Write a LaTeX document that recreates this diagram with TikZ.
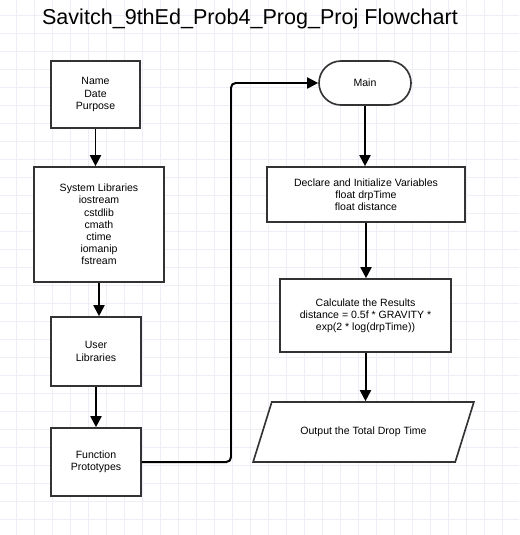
\documentclass[tikz,border=0pt]{standalone}
\usepackage{fontspec}
\setmainfont{Liberation Sans}
\usetikzlibrary{shapes.geometric, arrows.meta, calc}

\begin{document}
\begin{tikzpicture}[x=0.03cm, y=-0.03cm]
  \tikzstyle{gridline}=[draw={rgb,255:red,238;green,238;blue,246}, line width=0.35pt]
  \tikzstyle{box}=[draw={rgb,255:red,51;green,51;blue,51}, line width=1.4pt, fill=white, align=center, font=\fontsize{9}{10.4}\selectfont, inner sep=2pt]
  \tikzstyle{flow}=[draw=black, line width=1.7pt, -{Triangle[length=9.5pt,width=9.5pt]}]

  \pgfmathsetmacro{\u}{0.03}

  \useasboundingbox (0,0) rectangle (519,535);
  \fill[white] (0,0) rectangle (519,535);

  % background grid
  \foreach \i in {0,...,28} {
    \draw[gridline] ({16+18*\i},0) -- ({16+18*\i},535);
  }
  \foreach \j in {0,...,29} {
    \draw[gridline] (0,{15+18*\j}) -- (519,{15+18*\j});
  }

  \node (title) [anchor=base, font=\fontsize{18.4}{21}\selectfont] at (250,25) {Savitch\_9thEd\_Prob4\_Prog\_Proj Flowchart};

  % left column
  \node (name) [box, minimum width=89*\u cm, minimum height=67*\u cm] at (95.5,94.5) {Name\\Date\\Purpose};
  \node (syslib) [box, minimum width=130*\u cm, minimum height=115*\u cm] at (99,224.5) {System Libraries\\iostream\\cstdlib\\cmath\\ctime\\iomanip\\fstream};
  \node (userlib) [box, minimum width=90*\u cm, minimum height=69*\u cm] at (96,351.5) {User\\Libraries};
  \node (proto) [box, minimum width=90*\u cm, minimum height=68*\u cm] at (96,462) {Function\\Prototypes};

  % right column
  \node (main) [box, rounded corners=0.66cm, minimum width=92*\u cm, minimum height=44*\u cm] at (365,83) {Main};
  \node (declare) [box, minimum width=198*\u cm, minimum height=55*\u cm] at (366,194.5) {Declare and Initialize Variables\\float drpTime\\float distance};
  \node (calc) [box, minimum width=171*\u cm, minimum height=73*\u cm] at (365.5,315.5) {Calculate the Results\\distance = 0.5f * GRAVITY *\\exp(2 * log(drpTime))};
  \node (output) [box, trapezium, trapezium left angle=47.5, trapezium right angle=132.5, trapezium stretches=true, minimum width=221*\u cm, minimum height=60*\u cm] at (363.5,432) {Output the Total Drop Time};

  \draw[flow] (name.south) -- (name.south |- syslib.north);
  \draw[flow] (syslib.south) -- (syslib.south |- userlib.north);
  \draw[flow] (userlib.south) -- (proto.north);

  \coordinate (jog) at (231,83);
  \draw[flow, rounded corners=4pt] (proto.east) -| (jog) -- (main.west);

  \draw[flow] (main.south) -- (main.south |- declare.north);
  \draw[flow] (declare.south) -- (declare.south |- calc.north);
  \draw[flow] (calc.south) -- (calc.south |- output.north);

\end{tikzpicture}
\end{document}
